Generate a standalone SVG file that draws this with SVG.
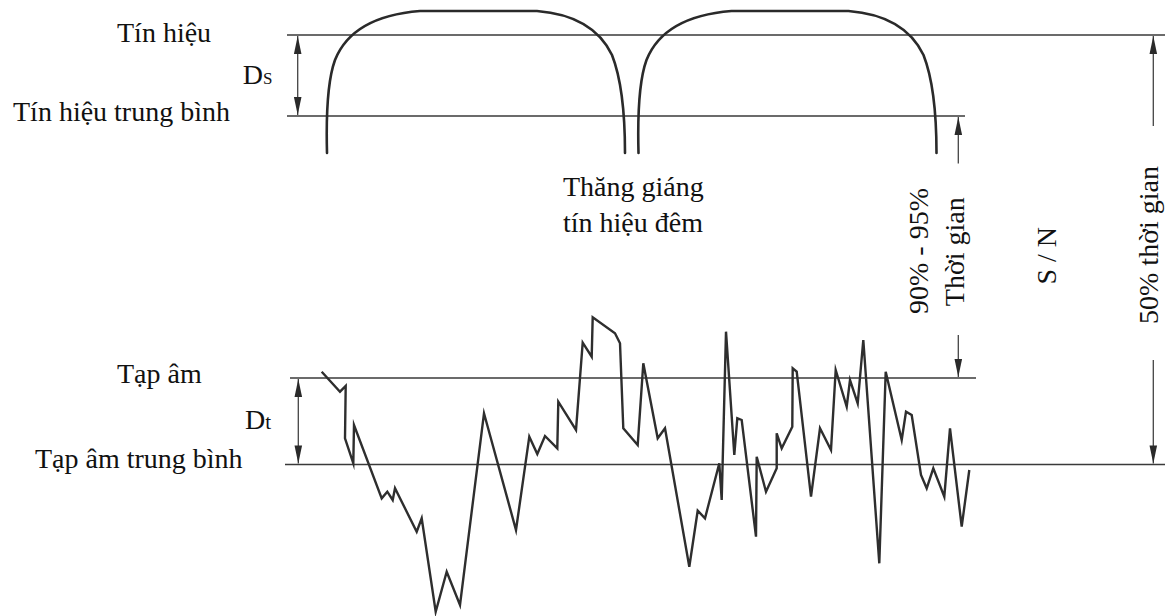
<svg xmlns="http://www.w3.org/2000/svg" width="1170" height="616" viewBox="0 0 1170 616">
<style>
.ref{stroke:#3a3a3a;stroke-width:1.6;fill:none}
.sig{stroke:#2a2a2a;stroke-width:2.6;fill:none;stroke-linecap:round;stroke-linejoin:round}
.noise{stroke:#2e2e2e;stroke-width:2.4;fill:none;stroke-linejoin:miter;stroke-miterlimit:6}
.dim{stroke:#444;stroke-width:1.3;fill:none}
.lbl{font-family:"Liberation Serif","Times New Roman",serif;font-size:28px;fill:#111}
</style>
<defs>
<marker id="ah" viewBox="0 0 20 10" refX="20" refY="5" markerWidth="20" markerHeight="9" markerUnits="userSpaceOnUse" orient="auto-start-reverse">
<path d="M0,0.8 L20,5 L0,9.2 Z" fill="#2a2a2a"/>
</marker>
</defs>
<rect width="1170" height="616" fill="#fff"/>
<g id="reference-lines">
<line class="ref" x1="287" y1="35" x2="1165" y2="35"/>
<line class="ref" x1="287" y1="116" x2="965" y2="116"/>
<line class="ref" x1="290" y1="378" x2="976" y2="378"/>
<line class="ref" x1="285" y1="464.5" x2="1165" y2="464.5"/>
</g>
<g id="signal">
<path id="pulse" class="sig" d="M327,153 C326,115 327,82 335,60 C345,35 370,15 420,11 L537,11 C575,14 600,30 612,55 C621,78 625,115 625,153"/>
<use href="#pulse" transform="translate(311.5,0)"/>
</g>
<g id="noise">
<polyline class="noise" points="321.7,371.7 340,391.7 345.7,386 345,438.3 353.3,463.3 354,425 381.7,498.3 387.3,491.7 392.7,500 395,488.3 416.7,531.7 421.7,518.3 435.7,611.7 446.7,571.7 460,605 484,413.3 516,530 529.3,436.7 537.3,454 545,436 557.3,448.3 558.3,401.7 576,430 582.7,342.7 591.7,356.7 592.7,317.3 615,333.3 620,343.3 623.3,428.3 637.7,445 643.3,363.3 657.7,438.3 665,428.3 689.3,566.7 697.7,510.7 705,518.3 719.3,463.3 721.7,500 726,331.7 734.3,455 737.3,418.3 741.7,420 756,536.7 756.7,456.7 766,491.7 776.7,468.3 776.7,433.3 781.7,448.3 792.3,426.7 792.7,368.3 796.7,371.7 811,496.7 820,428.3 831,450 835.7,370 846.7,406.7 850,380 857.7,403.3 863.3,340 879.3,563.3 885.7,371.7 901.7,440 906,411.7 911.7,415 921,475 926.7,488.3 933.3,468.3 944.3,496.7 950,428.3 961.7,526.7 969.3,470"/>
</g>
<g id="connectors">
<line class="dim" x1="297.7" y1="36" x2="297.7" y2="115" marker-start="url(#ah)" marker-end="url(#ah)"/>
<line class="dim" x1="298.3" y1="379" x2="298.3" y2="463.5" marker-start="url(#ah)" marker-end="url(#ah)"/>
<line class="dim" x1="958.3" y1="163.5" x2="958.3" y2="117" marker-end="url(#ah)"/>
<line class="dim" x1="958.3" y1="335" x2="958.3" y2="377" marker-end="url(#ah)"/>
<line class="dim" x1="1153.3" y1="126" x2="1153.3" y2="36" marker-end="url(#ah)"/>
<line class="dim" x1="1153.3" y1="360" x2="1153.3" y2="463.5" marker-end="url(#ah)"/>
</g>
<g id="labels">
<text class="lbl" x="117" y="42">Tín hiệu</text>
<text class="lbl" x="242.7" y="84.3">D<tspan font-size="17">S</tspan></text>
<text class="lbl" x="13" y="120.7">Tín hiệu trung bình</text>
<text class="lbl" x="563" y="196">Thăng giáng</text>
<text class="lbl" x="563" y="231.7">tín hiệu đêm</text>
<text class="lbl" x="117" y="383.3">Tạp âm</text>
<text class="lbl" x="245" y="429.3">D<tspan font-size="21">t</tspan></text>
<text class="lbl" x="35" y="468.3">Tạp âm trung bình</text>
<text class="lbl" text-anchor="middle" transform="translate(928,251) rotate(-90)">90% - 95%</text>
<text class="lbl" text-anchor="middle" transform="translate(964,251.7) rotate(-90)">Thời gian</text>
<text class="lbl" text-anchor="middle" transform="translate(1056,255.8) rotate(-90)">S / N</text>
<text class="lbl" text-anchor="middle" transform="translate(1158,245) rotate(-90)">50% thời gian</text>
</g>
</svg>
